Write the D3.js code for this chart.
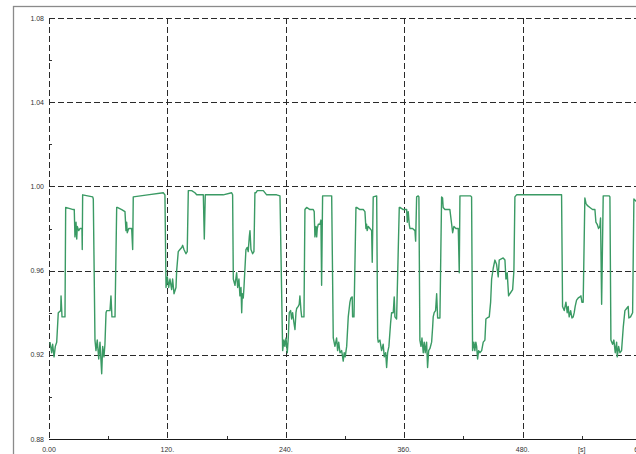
<!DOCTYPE html>
<html>
<head>
<meta charset="utf-8">
<script src="https://cdn.jsdelivr.net/npm/d3@7"></script>
<style>
  html, body { margin: 0; padding: 0; background: #fff; overflow: hidden; }
  svg { display: block; font-family: "Liberation Sans", Arial, sans-serif; }
  text { -webkit-font-smoothing: antialiased; }
</style>
</head>
<body>
<svg id="chart" width="636" height="454"></svg>
<script>
// Time axis [s]
const times = [
  1.0, 2.7, 3.7, 5.1, 6.4, 7.8, 9.4, 11.9, 12.2, 13.2, 16.2, 16.9, 24.6, 25.6, 26.3, 27.4, 28.1, 28.7, 30.1, 31.4,
  33.4, 33.7, 34.1, 44.3, 44.9, 46.6, 47.6, 48.9, 50.4, 51.7, 53.4, 54.4, 55.7, 56.7, 57.8, 58.5, 61.8, 62.8, 63.8, 66.9,
  68.6, 69.2, 73.7, 77.0, 78.0, 78.7, 79.3, 80.8, 83.8, 84.8, 85.4, 100.0, 115.8, 117.5, 118.6, 119.9, 121.3, 122.6, 124.3, 125.3,
  126.7, 128.7, 129.4, 131.0, 132.7, 134.5, 135.5, 136.8, 138.8, 140.1, 141.2, 144.6, 147.9, 149.7, 153.0, 156.4, 157.4, 158.4, 163.1, 169.9,
  173.3, 176.6, 185.1, 186.1, 186.8, 188.5, 190.2, 191.2, 192.5, 193.5, 194.6, 195.3, 195.9, 196.9, 197.6, 199.6, 200.9, 201.9, 203.0, 203.7,
  204.7, 206.4, 207.7, 208.7, 209.8, 211.1, 217.2, 220.6, 223.9, 227.3, 230.7, 234.1, 236.8, 238.1, 239.1, 240.2, 241.5, 242.5, 243.5, 244.9,
  245.9, 246.9, 248.3, 249.3, 250.3, 251.0, 252.6, 253.6, 254.3, 255.4, 256.1, 258.4, 259.4, 261.1, 264.5, 267.8, 268.8, 269.5, 270.6, 271.3,
  271.9, 272.9, 274.6, 275.6, 276.3, 277.3, 286.5, 288.1, 289.8, 291.5, 292.5, 293.6, 294.9, 296.6, 298.2, 299.2, 300.2, 301.7, 303.3, 305.0,
  306.0, 307.3, 307.7, 309.1, 311.1, 311.8, 315.1, 318.5, 320.2, 321.2, 321.9, 322.5, 323.6, 325.3, 327.0, 327.6, 328.6, 332.1, 333.1, 333.7,
  335.4, 337.1, 338.7, 339.8, 341.2, 342.2, 343.2, 344.5, 346.2, 347.2, 348.9, 349.9, 350.6, 352.3, 355.0, 355.7, 359.0, 362.5, 363.1, 364.1,
  365.1, 365.8, 368.5, 370.9, 371.6, 372.6, 374.2, 374.9, 375.9, 377.0, 378.0, 379.3, 380.3, 381.3, 382.7, 383.7, 384.8, 386.1, 387.8, 388.8,
  389.4, 390.4, 391.8, 392.9, 393.9, 396.2, 397.9, 398.9, 399.5, 401.3, 406.3, 408.1, 409.1, 410.4, 412.4, 414.8, 415.8, 416.5, 427.3, 428.3,
  429.3, 430.6, 431.6, 432.6, 433.4, 434.4, 435.4, 436.7, 438.5, 440.1, 441.8, 442.8, 444.1, 446.2, 447.6, 448.6, 450.2, 451.9, 453.6, 455.3,
  456.3, 458.0, 460.3, 462.1, 463.1, 464.4, 465.8, 467.1, 469.9, 471.2, 472.2, 473.9, 500.9, 519.5, 520.5, 522.2, 523.9, 525.2, 526.2, 527.2,
  528.7, 530.0, 531.3, 532.3, 533.3, 534.7, 536.4, 538.1, 539.1, 540.1, 541.4, 543.1, 544.2, 545.5, 548.2, 550.9, 553.3, 554.3, 555.6, 557.0,
  558.3, 559.0, 560.1, 561.7, 567.8, 568.5, 569.5, 571.2, 572.5, 573.9, 575.3, 575.9, 577.3, 578.6, 580.3, 582.0, 583.7, 585.4, 587.0, 587.7,
  589.4, 591.5, 592.8, 594.8, 600.0
];

// Measured signal (per unit)
const signal = [
  0.926, 0.921, 0.925, 0.919, 0.924, 0.926, 0.940, 0.941, 0.948, 0.938, 0.938, 0.990, 0.989, 0.989, 0.976, 0.983, 0.975, 0.981, 0.979, 0.980,
  0.980, 0.970, 0.996, 0.995, 0.994, 0.927, 0.922, 0.927, 0.918, 0.926, 0.911, 0.924, 0.919, 0.925, 0.940, 0.941, 0.941, 0.948, 0.938, 0.938,
  0.990, 0.990, 0.989, 0.988, 0.979, 0.983, 0.978, 0.980, 0.980, 0.970, 0.995, 0.996, 0.997, 0.996, 0.952, 0.957, 0.952, 0.956, 0.951, 0.956,
  0.949, 0.952, 0.960, 0.969, 0.970, 0.971, 0.972, 0.970, 0.968, 0.969, 0.998, 0.998, 0.997, 0.996, 0.996, 0.996, 0.975, 0.996, 0.996, 0.996,
  0.996, 0.996, 0.997, 0.996, 0.956, 0.953, 0.959, 0.952, 0.956, 0.948, 0.952, 0.940, 0.949, 0.947, 0.952, 0.970, 0.971, 0.969, 0.976, 0.979,
  0.970, 0.968, 0.969, 0.997, 0.997, 0.998, 0.998, 0.996, 0.996, 0.996, 0.996, 0.9955, 0.922, 0.927, 0.924, 0.928, 0.921, 0.928, 0.940, 0.941,
  0.937, 0.940, 0.935, 0.932, 0.940, 0.942, 0.943, 0.944, 0.948, 0.941, 0.938, 0.938, 0.989, 0.990, 0.989, 0.989, 0.988, 0.976, 0.981, 0.976,
  0.980, 0.982, 0.982, 0.984, 0.953, 0.9955, 0.9955, 0.928, 0.924, 0.928, 0.922, 0.926, 0.921, 0.922, 0.917, 0.921, 0.919, 0.924, 0.938, 0.945,
  0.947, 0.9475, 0.938, 0.938, 0.990, 0.990, 0.989, 0.989, 0.988, 0.980, 0.982, 0.979, 0.981, 0.980, 0.979, 0.964, 0.995, 0.9955, 0.928, 0.926,
  0.927, 0.922, 0.925, 0.919, 0.921, 0.914, 0.921, 0.924, 0.935, 0.940, 0.940, 0.9475, 0.938, 0.937, 0.990, 0.990, 0.989, 0.989, 0.983, 0.988,
  0.982, 0.980, 0.980, 0.979, 0.974, 0.995, 0.9955, 0.995, 0.927, 0.924, 0.928, 0.921, 0.926, 0.921, 0.926, 0.914, 0.922, 0.923, 0.926, 0.933,
  0.938, 0.940, 0.941, 0.949, 0.9375, 0.9375, 0.995, 0.9945, 0.990, 0.989, 0.989, 0.982, 0.978, 0.981, 0.980, 0.980, 0.959, 0.9955, 0.9955, 0.995,
  0.922, 0.926, 0.922, 0.926, 0.924, 0.918, 0.922, 0.921, 0.922, 0.926, 0.927, 0.937, 0.9375, 0.938, 0.945, 0.956, 0.961, 0.965, 0.963, 0.957,
  0.965, 0.9655, 0.966, 0.965, 0.956, 0.959, 0.948, 0.949, 0.951, 0.960, 0.995, 0.996, 0.996, 0.996, 0.943, 0.941, 0.945, 0.940, 0.943, 0.938,
  0.941, 0.9375, 0.938, 0.940, 0.943, 0.946, 0.947, 0.9475, 0.948, 0.945, 0.945, 0.9945, 0.992, 0.991, 0.990, 0.989, 0.989, 0.983, 0.982, 0.980,
  0.981, 0.985, 0.944, 0.9955, 0.9955, 0.995, 0.927, 0.925, 0.927, 0.921, 0.926, 0.919, 0.924, 0.921, 0.922, 0.933, 0.941, 0.942, 0.943, 0.9375,
  0.938, 0.940, 0.994, 0.993, 0.992
];

// Axis ticks and labels
const xMajor = [0, 120, 240, 360, 480, 600];
const xMajorLabels = ["0.00", "120.", "240.", "360.", "480.", "600."];
const xMinor = [60, 180, 300, 420, 540];
const xUnitAt = 540;
const xUnitLabel = "[s]";
const yMajor = [0.88, 0.92, 0.96, 1.00, 1.04, 1.08];
const yMajorLabels = ["0.88", "0.92", "0.96", "1.00", "1.04", "1.08"];
const yMinor = [0.90, 0.94, 0.98, 1.02, 1.06];

const svg = d3.select("#chart");

const x = d3.scaleLinear().domain([0, 600]).range([49, 641]);
const y = d3.scaleLinear().domain([0.88, 1.08]).range([439, 18]);

// Outer frame
svg.append("rect")
  .attr("x", 13.5).attr("y", 6.5)
  .attr("width", 700).attr("height", 500)
  .attr("fill", "none")
  .attr("stroke", "#8a8a8a")
  .attr("stroke-width", 1.3);

const grid = svg.append("g").attr("stroke", "#2a2a2a").attr("stroke-width", 1)
  .attr("stroke-dasharray", "6,3");

// Horizontal dashed grid (bottom edge drawn solid below)
grid.selectAll("line.h")
  .data(yMajor.filter(v => v > 0.88))
  .join("line")
  .attr("class", "h")
  .attr("x1", x(0)).attr("x2", x(600))
  .attr("y1", d => Math.round(y(d)) + 0.5)
  .attr("y2", d => Math.round(y(d)) + 0.5);

// Vertical dashed grid
grid.selectAll("line.v")
  .data(xMajor)
  .join("line")
  .attr("class", "v")
  .attr("x1", d => Math.round(x(d)) + 0.5)
  .attr("x2", d => Math.round(x(d)) + 0.5)
  .attr("y1", y(1.08)).attr("y2", y(0.88));

// Bottom axis line
svg.append("line")
  .attr("x1", x(0)).attr("x2", x(600))
  .attr("y1", Math.round(y(0.88)) + 0.5).attr("y2", Math.round(y(0.88)) + 0.5)
  .attr("stroke", "#1a1a1a").attr("stroke-width", 1.2);

// Minor ticks
svg.append("g").selectAll("line")
  .data(xMinor)
  .join("line")
  .attr("x1", d => Math.round(x(d)) + 0.5).attr("x2", d => Math.round(x(d)) + 0.5)
  .attr("y1", y(0.88)).attr("y2", y(0.88) - 3)
  .attr("stroke", "#333");

svg.append("g").selectAll("line")
  .data(yMinor)
  .join("line")
  .attr("x1", x(0)).attr("x2", x(0) + 3)
  .attr("y1", d => Math.round(y(d)) + 0.5).attr("y2", d => Math.round(y(d)) + 0.5)
  .attr("stroke", "#333");

// Y labels
svg.append("g").selectAll("text")
  .data(yMajor)
  .join("text")
  .attr("x", 44)
  .attr("y", d => y(d) + 2.5)
  .attr("text-anchor", "end")
  .attr("font-size", 7)
  .attr("fill", "#333")
  .text((d, i) => yMajorLabels[i]);

// X labels
svg.append("g").selectAll("text")
  .data(xMajor)
  .join("text")
  .attr("x", d => x(d))
  .attr("y", 452)
  .attr("text-anchor", "middle")
  .attr("font-size", 7)
  .attr("fill", "#333")
  .text((d, i) => xMajorLabels[i]);

svg.append("text")
  .attr("x", x(xUnitAt))
  .attr("y", 452)
  .attr("text-anchor", "middle")
  .attr("font-size", 7)
  .attr("fill", "#333")
  .text(xUnitLabel);

// Signal trace
const series = times.map((t, i) => [t, signal[i]]);
const line = d3.line()
  .x(d => x(d[0]))
  .y(d => y(d[1]));

svg.append("path")
  .datum(series)
  .attr("fill", "none")
  .attr("stroke", "#3a9a64")
  .attr("stroke-width", 1.4)
  .attr("stroke-linejoin", "round")
  .attr("d", line);
</script>
</body>
</html>
